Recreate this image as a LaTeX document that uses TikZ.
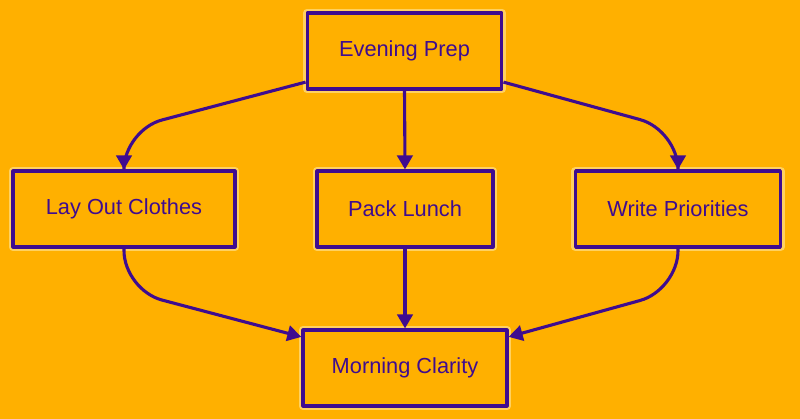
\documentclass[tikz,border=0pt]{standalone}
\usepackage{fontspec}
\setmainfont{Liberation Sans}
\usetikzlibrary{arrows.meta}
\definecolor{bgorange}{HTML}{FFB000}
\definecolor{ink}{HTML}{3F0C8F}
\definecolor{glow}{HTML}{FFE08A}
\begin{document}
\begin{tikzpicture}[x=0.025cm,y=-0.025cm,line join=round,
  stepbox/.style={draw=ink,line width=2.2pt,fill=bgorange,text=ink,
    minimum height=1.9cm,inner sep=0pt,font=\fontsize{15.5}{18}\selectfont,
    preaction={draw=glow,line width=6pt,opacity=.7}},
  arr/.style={draw=ink,line width=2.2pt,-{Triangle[length=10pt,width=11pt]},rounded corners=28pt}]
  \fill[bgorange] (0,0) rectangle (800,419);
  \node[stepbox,minimum width=4.87cm] (EP) at (404.5,51) {Evening Prep};
  \node[stepbox,minimum width=5.55cm] (LO) at (124,209) {Lay Out Clothes};
  \node[stepbox,minimum width=4.4cm] (PL) at (405,209) {Pack Lunch};
  \node[stepbox,minimum width=5.12cm] (WP) at (678,209) {Write Priorities};
  \node[stepbox,minimum width=5.1cm] (MC) at (405,368) {Morning Clarity};
  \draw[arr] ([yshift=6pt]EP.south west) -- (124,130) -- (LO.north);
  \draw[arr] (EP.south) -- (PL.north);
  \draw[arr] ([yshift=6pt]EP.south east) -- (678,130) -- (WP.north);
  \draw[arr] (LO.south) -- (124,290) -- ([yshift=-6pt]MC.north west);
  \draw[arr] (PL.south) -- (MC.north);
  \draw[arr] (WP.south) -- (678,290) -- ([yshift=-6pt]MC.north east);
\end{tikzpicture}
\end{document}
